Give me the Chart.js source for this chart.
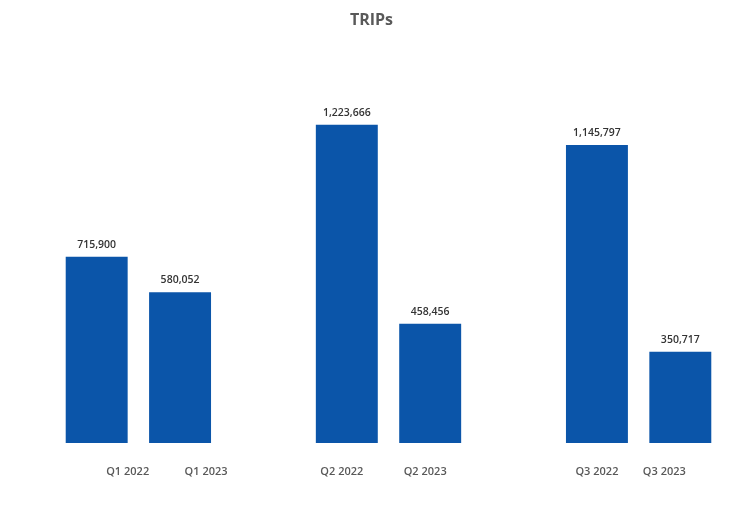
<!DOCTYPE html>
<html>
<head>
<meta charset="utf-8">
<script src="https://cdn.jsdelivr.net/npm/chart.js@4"></script>
<style>
    html, body { margin: 0; padding: 0; background: #ffffff; }
    #wrap { width: 743px; height: 505px; }
</style>
</head>
<body>
<div id="wrap"><canvas id="tripsChart"></canvas></div>
<script>
// blank slots keep the gaps between quarters
const categories = ['Q1 2022', 'Q1 2023', '', 'Q2 2022', 'Q2 2023', '', 'Q3 2022', 'Q3 2023'];
const trips = [715900, 580052, null, 1223666, 458456, null, 1145797, 350717];

// labels under the bars are not centred in the original, nudge them
const labelShift = [31, 26, 0, -5, -5, 0, 0, -16];

const barBlue = '#0b55a9';

const labelsPlugin = {
    id: 'tripLabels',
    afterDatasetsDraw(chart) {
        const ctx = chart.ctx;
        const meta = chart.getDatasetMeta(0);
        const xScale = chart.scales.x;
        ctx.save();
        ctx.textAlign = 'center';
        ctx.textBaseline = 'middle';

        // title sits over the whole canvas, not the plot area
        ctx.font = 'bold 16px "Open Sans"';
        ctx.fillStyle = '#595959';
        ctx.fillText('TRIPs', chart.width / 2, 20);

        // values above the bars
        ctx.font = '600 10.5px "Open Sans"';
        ctx.fillStyle = '#333333';
        meta.data.forEach((bar, i) => {
            if (trips[i] == null) return;
            ctx.fillText(trips[i].toLocaleString('en-US'), bar.x, bar.y - 12);
        });

        // category names below
        ctx.font = '600 11px "Open Sans"';
        ctx.fillStyle = '#595959';
        categories.forEach((c, i) => {
            if (!c) return;
            ctx.fillText(c, xScale.getPixelForValue(i) + labelShift[i], chart.chartArea.bottom + 29);
        });
        ctx.restore();
    }
};

new Chart(document.getElementById('tripsChart').getContext('2d'), {
    type: 'bar',
    data: {
        labels: categories,
        datasets: [{ label: 'TRIPs', data: trips, backgroundColor: barBlue, categoryPercentage: 1, barPercentage: 0.743 }]
    },
    options: {
        responsive: true, maintainAspectRatio: false, animation: false,
        layout: { padding: { top: 79, left: 55, right: 21, bottom: 62 } },
        plugins: {
            legend: { display: false },
            tooltip: { enabled: false },
            title: { display: false }
        },
        scales: {
            x: { display: false },
            y: { display: false, min: 0, max: 1400000 }
        }
    },
    plugins: [labelsPlugin]
});
</script>
</body>
</html>
